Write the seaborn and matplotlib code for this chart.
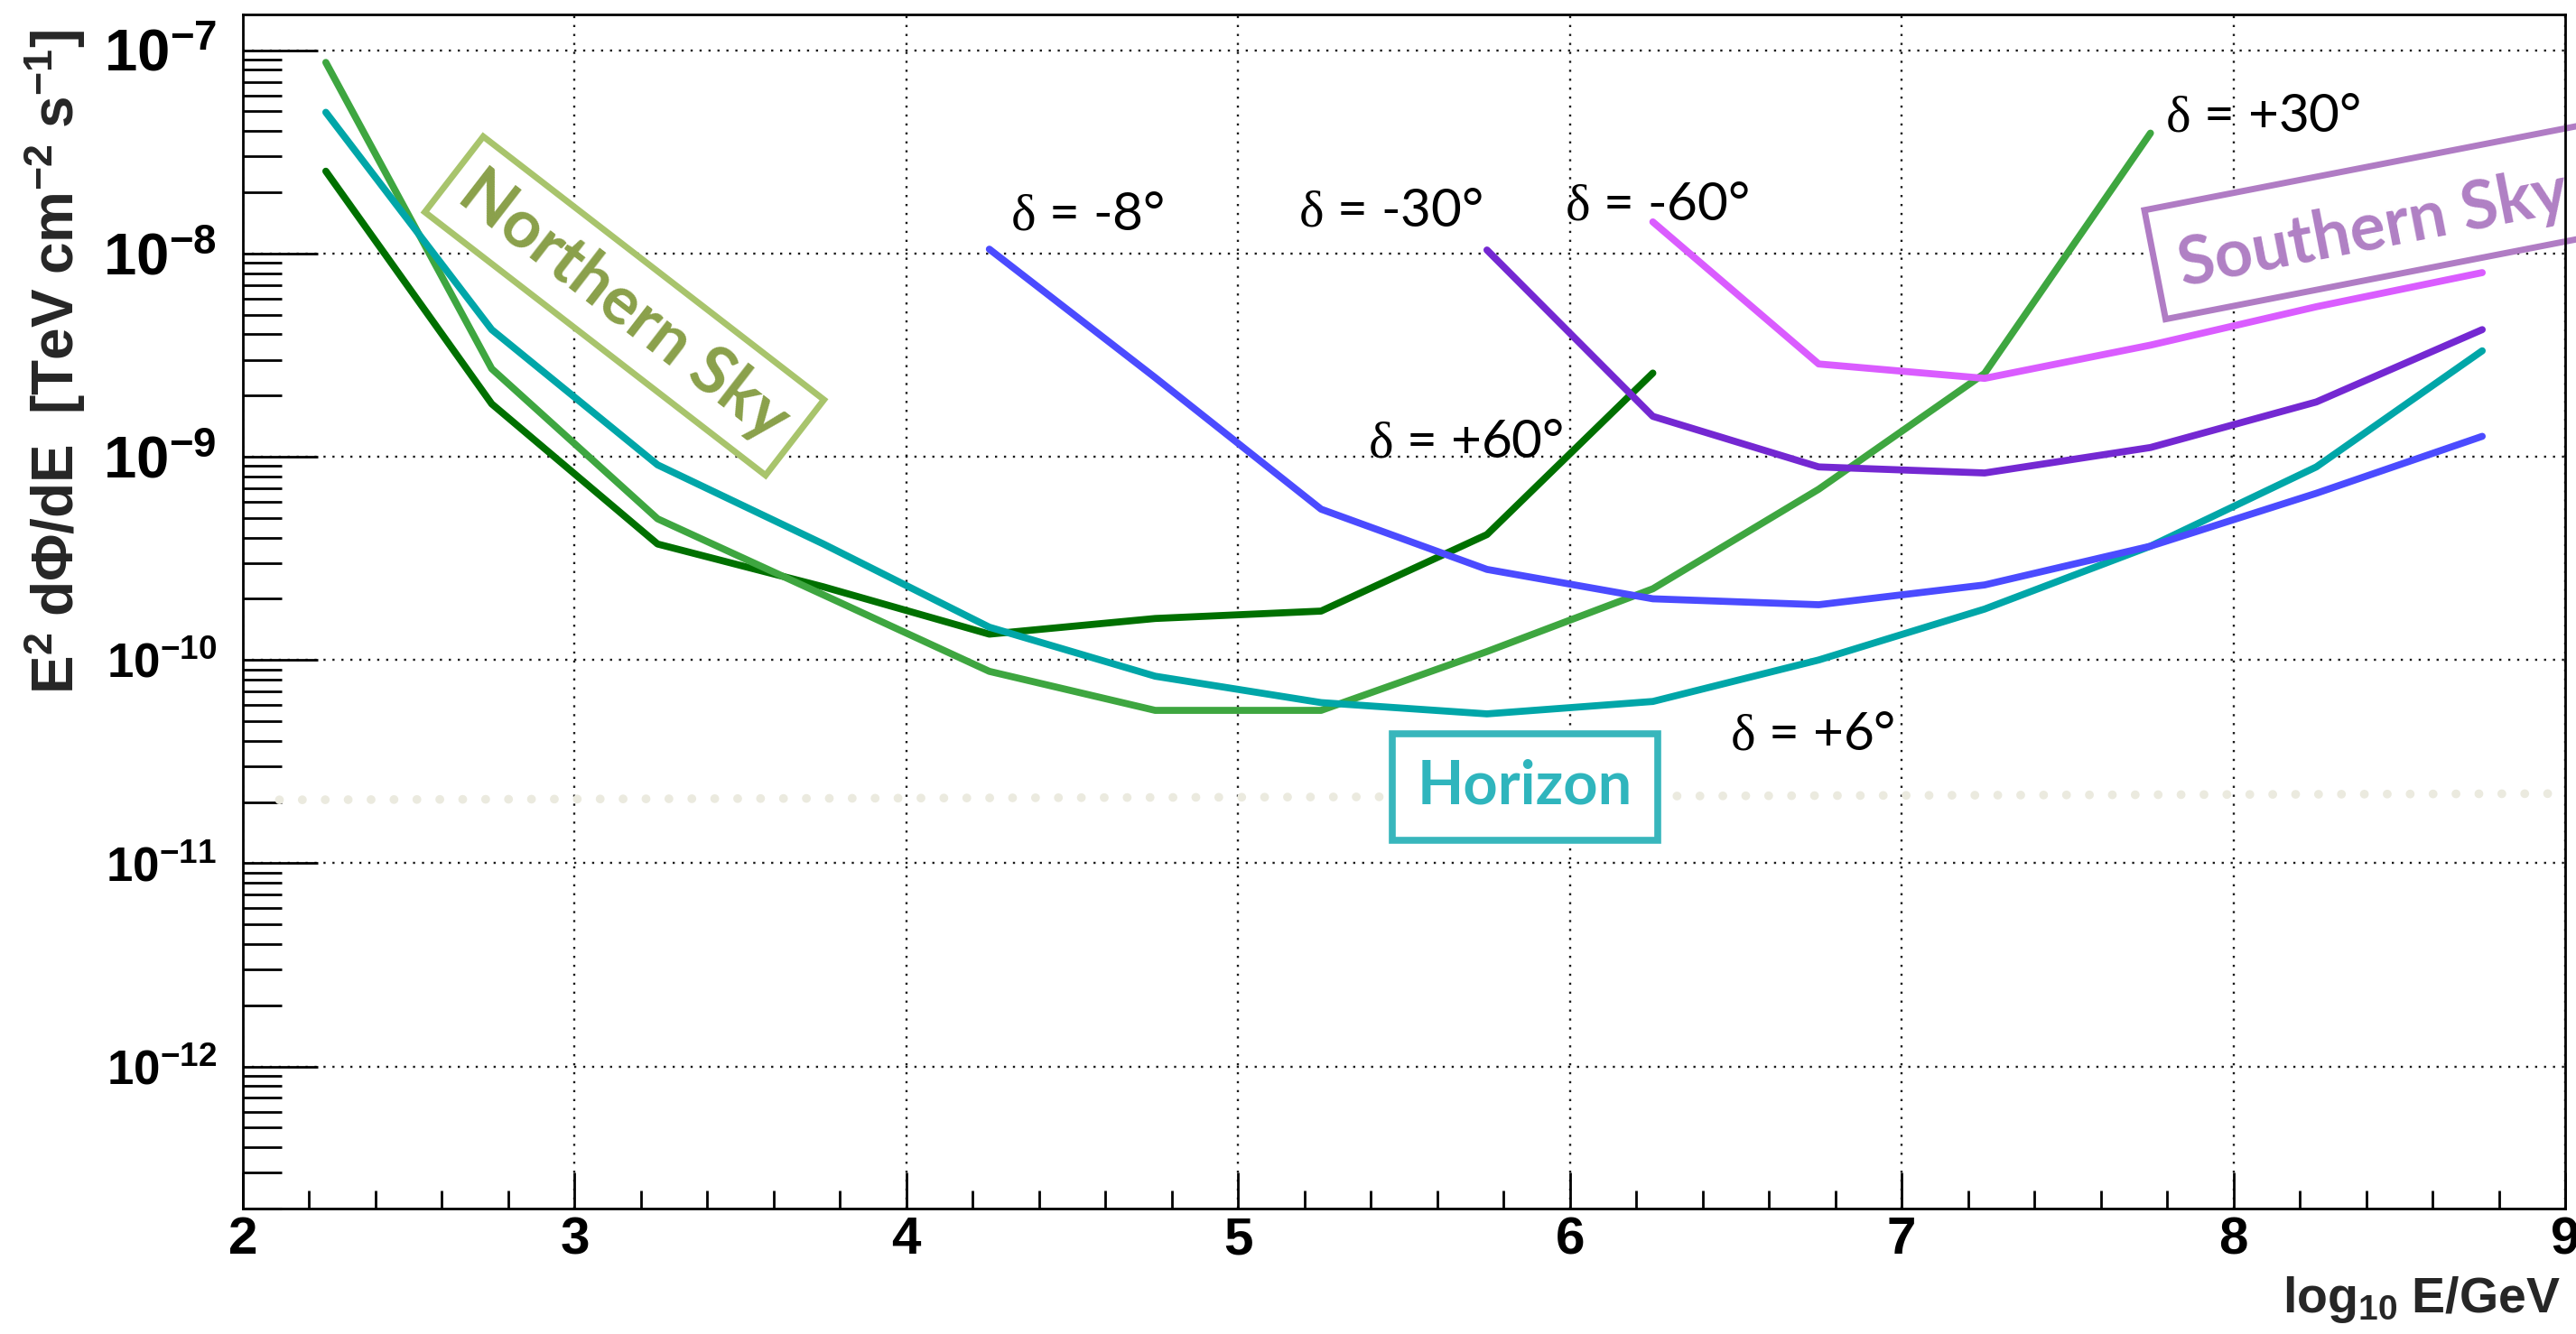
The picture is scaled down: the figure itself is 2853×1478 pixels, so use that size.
import numpy as np
import pandas as pd
import matplotlib
matplotlib.use("Agg")
import matplotlib.pyplot as plt
from matplotlib.ticker import MultipleLocator, LogLocator, NullFormatter, FixedLocator
from matplotlib.patches import Rectangle
from matplotlib.transforms import IdentityTransform
import seaborn as sns

# ---------------- data ----------------
logE_p60 = [2.25, 2.75, 3.25, 3.75, 4.25, 4.75, 5.25, 5.75, 6.25]
flux_p60 = [2.54e-8, 1.82e-9, 3.72e-10, 2.29e-10, 1.34e-10, 1.60e-10, 1.74e-10, 4.14e-10, 2.58e-9]

logE_p30 = [2.25, 2.75, 3.25, 3.75, 4.25, 4.75, 5.25, 5.75, 6.25, 6.75, 7.25, 7.75]
flux_p30 = [8.71e-8, 2.71e-9, 4.95e-10, 2.09e-10, 8.79e-11, 5.65e-11, 5.65e-11, 1.10e-10,
            2.24e-10, 6.92e-10, 2.57e-9, 3.91e-8]

logE_p6 = [2.25, 2.75, 3.25, 3.75, 4.25, 4.75, 5.25, 5.75, 6.25, 6.75, 7.25, 7.75, 8.25, 8.75]
flux_p6 = [4.95e-8, 4.22e-9, 9.12e-10, 3.72e-10, 1.45e-10, 8.32e-11, 6.17e-11, 5.43e-11,
           6.25e-11, 1.00e-10, 1.78e-10, 3.63e-10, 8.91e-10, 3.32e-9]

logE_m8 = [4.25, 4.75, 5.25, 5.75, 6.25, 6.75, 7.25, 7.75, 8.25, 8.75]
flux_m8 = [1.05e-8, 2.45e-9, 5.52e-10, 2.79e-10, 2.00e-10, 1.87e-10, 2.34e-10, 3.63e-10,
           6.61e-10, 1.26e-9]

logE_m30 = [5.75, 6.25, 6.75, 7.25, 7.75, 8.25, 8.75]
flux_m30 = [1.04e-8, 1.58e-9, 8.91e-10, 8.32e-10, 1.11e-9, 1.86e-9, 4.22e-9]

logE_m60 = [6.25, 6.75, 7.25, 7.75, 8.25, 8.75]
flux_m60 = [1.43e-8, 2.86e-9, 2.43e-9, 3.54e-9, 5.47e-9, 8.05e-9]

ref_logE = [2.11, 8.95]
ref_flux = [2.05e-11, 2.20e-11]

curve_names = ["+60", "+30", "+6", "-8", "-30", "-60"]
curve_colors = ["#007000", "#3ea640", "#00a6a8", "#4b4bff", "#7428d2", "#da5cff"]

x_ticks = [2, 3, 4, 5, 6, 7, 8, 9]
y_ticks = [1e-12, 1e-11, 1e-10, 1e-9, 1e-8, 1e-7]
y_tick_labels = [r"$\mathbf{10^{-12}}$", r"$\mathbf{10^{-11}}$", r"$\mathbf{10^{-10}}$",
                 r"$\mathbf{10^{-9}}$", r"$\mathbf{10^{-8}}$", r"$\mathbf{10^{-7}}$"]

# ---------------- style ----------------
sns.set_theme(style="white")
plt.rcParams.update({
    "font.family": ["Liberation Sans", "DejaVu Sans"],
    "mathtext.fontset": "custom",
    "mathtext.bf": "Liberation Sans:bold",
    "mathtext.rm": "Liberation Sans",
    "mathtext.sf": "Liberation Sans",
    "mathtext.it": "Liberation Serif",
    "axes.edgecolor": "black",
    "axes.linewidth": 2.0,
})

frames = []
for name, xs, ys in zip(curve_names,
                        [logE_p60, logE_p30, logE_p6, logE_m8, logE_m30, logE_m60],
                        [flux_p60, flux_p30, flux_p6, flux_m8, flux_m30, flux_m60]):
    frames.append(pd.DataFrame({"logE": xs, "flux": ys, "curve": name}))
df = pd.concat(frames, ignore_index=True)
ref_df = pd.DataFrame({"logE": ref_logE, "flux": ref_flux})

fig = plt.figure(figsize=(28.53, 14.78), dpi=100)
ax = fig.add_axes([0.09429, 0.09405, 0.90150, 0.89513])
ax.set_yscale("log")

# pale reference level
sns.lineplot(data=ref_df, x="logE", y="flux", ax=ax, color="#ebeadf", linewidth=7,
             linestyle=(0, (0.01, 2.6)), dash_capstyle="round", zorder=3,
             estimator=None, sort=False, legend=False)

sns.lineplot(data=df, x="logE", y="flux", hue="curve", hue_order=curve_names,
             palette=dict(zip(curve_names, curve_colors)), estimator=None, sort=False,
             linewidth=5.6, legend=False, ax=ax, zorder=5)

ax.set_xlim(2, 9)
ax.set_ylim(2e-13, 1.5e-7)

ax.xaxis.set_major_locator(FixedLocator(x_ticks))
ax.xaxis.set_minor_locator(MultipleLocator(0.2))
ax.set_xticklabels([str(v) for v in x_ticks], fontsize=42, fontweight="bold")

ax.yaxis.set_major_locator(FixedLocator(y_ticks))
ax.yaxis.set_minor_locator(LogLocator(base=10, subs=np.arange(2, 10), numticks=60))
ax.yaxis.set_minor_formatter(NullFormatter())
ax.set_yticklabels(y_tick_labels)
for lab, v in zip(ax.get_yticklabels(), y_ticks):
    lab.set_fontsize(47 if v >= 1e-9 else 38)

ax.tick_params(axis="y", which="major", direction="in", length=60, width=2, pad=21,
               left=True, right=False, colors="black")
ax.tick_params(axis="y", which="minor", direction="in", length=31, width=2,
               left=True, right=False, colors="black")
ax.tick_params(axis="x", which="major", direction="in", length=29, width=2, pad=6,
               bottom=True, top=False, colors="black")
ax.tick_params(axis="x", which="minor", direction="in", length=14.5, width=2,
               bottom=True, top=False, colors="black")

ax.grid(True, which="major", color="#1a1a1a", linestyle=(0, (1, 3.2)), linewidth=1.7)
ax.grid(False, which="minor")
ax.set_axisbelow(True)
for s in ax.spines.values():
    s.set_visible(True)
    s.set_color("black")
    s.set_linewidth(2.0)
    s.set_zorder(6)

ax.set_xlabel(r"$\mathbf{log_{10}\ E/GeV}$", fontsize=40, ha="right")
ax.xaxis.set_label_coords(0.998, -0.055)
ax.set_ylabel(r"$\mathbf{E^{2}\ d\Phi/dE\ \ [TeV\ cm^{-2}\ s^{-1}]}$", fontsize=46, ha="right")
ax.yaxis.set_label_coords(-0.067, 0.987)

# declination labels
lab_kw = dict(fontsize=42, family=["Lato", "DejaVu Sans"], color="black",
              ha="left", va="baseline", zorder=7)
ax.text(4.313, 1.31e-8, r"$\delta$ = -8°", **lab_kw)
ax.text(5.182, 1.37e-8, r"$\delta$ = -30°", **lab_kw)
ax.text(5.985, 1.46e-8, r"$\delta$ = -60°", **lab_kw)
ax.text(5.391, 1.00e-9, r"$\delta$ = +60°", **lab_kw)
ax.text(7.795, 3.97e-8, r"$\delta$ = +30°", **lab_kw)
ax.text(6.483, 3.63e-11, r"$\delta$ = +6°", **lab_kw)

# region boxes
ax.text(3.150, 10 ** -8.258, "Northern Sky", rotation=-37.7, rotation_mode="anchor",
        ha="center", va="center", fontsize=53, fontweight="bold", family="Lato",
        color="#8aa04a", zorder=4,
        bbox=dict(boxstyle="square,pad=0.25", fc="white", ec="#a8c46c", lw=5))

south_box = Rectangle((2398.5, 1124.4), 580, 123, angle=11, transform=IdentityTransform(),
                      facecolor="white", edgecolor="#b07cc4", linewidth=5, zorder=4,
                      clip_on=False)
ax.add_patch(south_box)
ax.text(8.421, 10 ** -7.884, "Southern Sky", rotation=11, rotation_mode="anchor",
        ha="center", va="center", fontsize=53, fontweight="bold", family="Lato",
        color="#b080c4", zorder=4.5, clip_on=False)

ax.text(5.865, 10 ** -10.625, "Horizon", ha="center", va="center", fontsize=48,
        fontweight="bold", family="Lato", color="#2fb5bd", zorder=4,
        bbox=dict(boxstyle="square,pad=0.42", fc="white", ec="#38b6bc", lw=5.5))

fig.savefig("out.png", dpi=100)
